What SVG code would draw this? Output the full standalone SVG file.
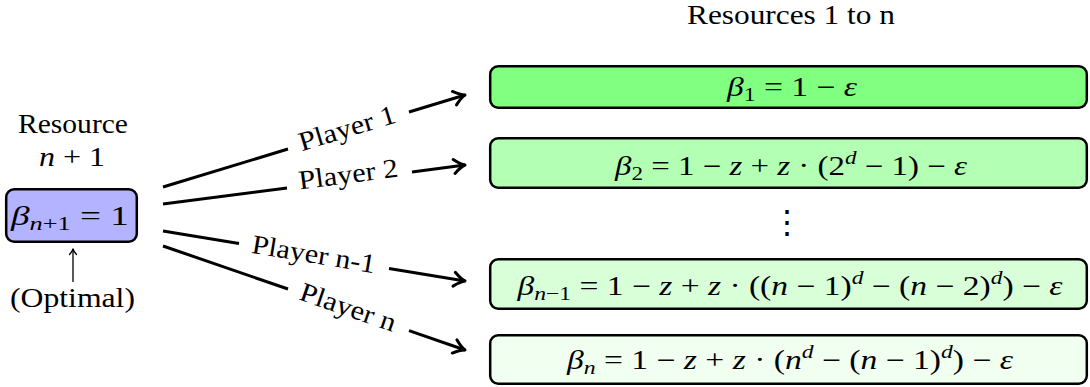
<svg xmlns="http://www.w3.org/2000/svg" width="1090" height="387" viewBox="0 0 1090 387">
<style>
.t { font-family: "Liberation Serif", "DejaVu Serif", serif; font-size: 27px; fill: #000; }
.i { font-style: italic; }
.s { font-size: 19px; }
.box { stroke: #000; stroke-width: 2.5; }
.conn { stroke: #000; stroke-width: 3; fill: none; }
.thin { stroke: #000; stroke-width: 1.3; fill: none; }
</style>
<defs>
<marker id="ah" markerUnits="userSpaceOnUse" viewBox="-14 -9 16 18" refX="0" refY="0" markerWidth="16" markerHeight="18" orient="auto" overflow="visible">
<path d="M-11,-7 Q-4,-1 0,0 Q-4,1 -11,7" fill="none" stroke="#000" stroke-width="3" stroke-linecap="round" stroke-linejoin="round"/>
</marker>
<marker id="ahs" markerUnits="userSpaceOnUse" viewBox="-8 -5 10 10" refX="0" refY="0" markerWidth="10" markerHeight="10" orient="auto" overflow="visible">
<path d="M-5.5,-3.5 Q-2,-0.5 0,0 Q-2,0.5 -5.5,3.5" fill="none" stroke="#000" stroke-width="1.3" stroke-linecap="round" stroke-linejoin="round"/>
</marker>
</defs>

<g id="title">
<text class="t" x="791" y="24" text-anchor="middle" textLength="208" lengthAdjust="spacingAndGlyphs">Resources 1 to n</text>
</g>

<g id="connectors">
<path class="conn" d="M163,187 L288,149 M409,112 L465,95" marker-end="url(#ah)"/>
<path class="conn" d="M163,204 L287,188 M412,172 L465,165" marker-end="url(#ah)"/>
<path class="conn" d="M163,231 L239,243.6 M389,268.4 L465,281" marker-end="url(#ah)"/>
<path class="conn" d="M163,246 L288,289 M409,330.7 L465,350" marker-end="url(#ah)"/>
<path class="thin" d="M73,282 L73,249" marker-end="url(#ahs)"/>
</g>

<g id="labels">
<text class="t" transform="translate(347.5,130) rotate(-16.9)" x="0" y="7" text-anchor="middle" textLength="100" lengthAdjust="spacingAndGlyphs">Player 1</text>
<text class="t" transform="translate(348.5,176) rotate(-7.4)" x="0" y="7" text-anchor="middle" textLength="100" lengthAdjust="spacingAndGlyphs">Player 2</text>
<text class="t" transform="translate(313.5,256) rotate(9.4)" x="0" y="7" text-anchor="middle" textLength="125" lengthAdjust="spacingAndGlyphs">Player n-1</text>
<text class="t" transform="translate(347.5,309) rotate(19)" x="0" y="7" text-anchor="middle" textLength="100" lengthAdjust="spacingAndGlyphs">Player n</text>
</g>

<g id="resource-n1">
<text class="t" x="73" y="133" text-anchor="middle" textLength="110" lengthAdjust="spacingAndGlyphs">Resource</text>
<text class="t" x="72" y="166" text-anchor="middle" textLength="66" lengthAdjust="spacingAndGlyphs"><tspan class="i">n</tspan> + 1</text>
<rect class="box" x="6.2" y="189.2" width="130.6" height="52.6" rx="8" fill="#B3B3FF"/>
<text class="t" x="70" y="225" text-anchor="middle" textLength="118" lengthAdjust="spacingAndGlyphs"><tspan class="i">β</tspan><tspan class="s i" dy="5">n</tspan><tspan class="s">+1</tspan><tspan dy="-5"> = 1</tspan></text>
</g>

<g id="optimal">
<text class="t" x="72.5" y="307" text-anchor="middle" textLength="125" lengthAdjust="spacingAndGlyphs">(Optimal)</text>
</g>

<g id="resource-1">
<rect class="box" x="490.2" y="66.2" width="596.6" height="41.6" rx="8" fill="#80FF80"/>
<text class="t" x="792" y="96" text-anchor="middle" textLength="130" lengthAdjust="spacingAndGlyphs"><tspan class="i">β</tspan><tspan class="s" dy="5">1</tspan><tspan dy="-5"> = 1 − </tspan><tspan class="i">ε</tspan></text>
</g>

<g id="resource-2">
<rect class="box" x="490.2" y="138.2" width="596.6" height="49.6" rx="8" fill="#B3FFB3"/>
<text class="t" x="791" y="175" text-anchor="middle" textLength="352" lengthAdjust="spacingAndGlyphs"><tspan class="i">β</tspan><tspan class="s" dy="5">2</tspan><tspan dy="-5"> = 1 − </tspan><tspan class="i">z</tspan> + <tspan class="i">z</tspan> · (2<tspan class="s i" dy="-11">d</tspan><tspan dy="11"> − 1) − </tspan><tspan class="i">ε</tspan></text>
</g>

<g id="vdots">
<text class="t" x="787" y="233" text-anchor="middle" style="font-size:32px">⋮</text>
</g>

<g id="resource-n-1">
<rect class="box" x="490.2" y="259.2" width="596.6" height="49.6" rx="8" fill="#D9FFD9"/>
<text class="t" x="790" y="295" text-anchor="middle" textLength="545" lengthAdjust="spacingAndGlyphs"><tspan class="i">β</tspan><tspan class="s i" dy="5">n</tspan><tspan class="s">−1</tspan><tspan dy="-5"> = 1 − </tspan><tspan class="i">z</tspan> + <tspan class="i">z</tspan> · ((<tspan class="i">n</tspan> − 1)<tspan class="s i" dy="-11">d</tspan><tspan dy="11"> − (</tspan><tspan class="i">n</tspan> − 2)<tspan class="s i" dy="-11">d</tspan><tspan dy="11">) − </tspan><tspan class="i">ε</tspan></text>
</g>

<g id="resource-n">
<rect class="box" x="490.2" y="335.2" width="596.6" height="48.6" rx="8" fill="#F0FFF0"/>
<text class="t" x="790" y="369" text-anchor="middle" textLength="446" lengthAdjust="spacingAndGlyphs"><tspan class="i">β</tspan><tspan class="s i" dy="5">n</tspan><tspan dy="-5"> = 1 − </tspan><tspan class="i">z</tspan> + <tspan class="i">z</tspan> · (<tspan class="i">n</tspan><tspan class="s i" dy="-11">d</tspan><tspan dy="11"> − (</tspan><tspan class="i">n</tspan> − 1)<tspan class="s i" dy="-11">d</tspan><tspan dy="11">) − </tspan><tspan class="i">ε</tspan></text>
</g>
</svg>
